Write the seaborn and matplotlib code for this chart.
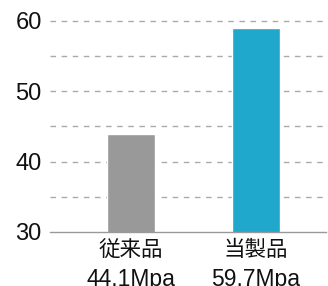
import pandas as pd
import matplotlib
matplotlib.use('Agg')
import matplotlib.pyplot as plt
import matplotlib.transforms as mtransforms
import seaborn as sns

# data
products = ['従来品', '当製品']
strength_labels = ['44.1Mpa', '59.7Mpa']
strength = [43.9, 59.0]
bar_colors = ['#999999', '#1fa7cc']
y_ticks = [30, 40, 50, 60]
grid_levels = [35, 40, 45, 50, 55, 60]

sns.set_style('white')
plt.rcParams['font.family'] = ['Liberation Sans', 'Noto Sans CJK JP', 'DejaVu Sans']

df = pd.DataFrame({'product': products, 'strength': strength})

fig = plt.figure(figsize=(3.28, 2.86), dpi=100)
ax = fig.add_axes([50 / 328, 54 / 286, 276 / 328, 226 / 286])

for lvl in grid_levels:
    ax.axhline(lvl, color='#aaaaaa', linestyle=(0, (4, 4)), linewidth=1, zorder=0)

sns.barplot(data=df, x='product', y='strength', hue='product', palette=bar_colors,
            width=0.384, legend=False, ax=ax, zorder=2, saturation=1)

ax.set_ylim(30, 62.06)
ax.set_xlim(-0.648, 1.56)
ax.set_yticks(y_ticks)
ax.set_yticklabels([str(t) for t in y_ticks], fontsize=17, color='#111111')
ax.set_xticks(range(len(products)))
ax.set_xticklabels(products, fontsize=15.5, color='#111111',
                   family=['Noto Sans CJK JP', 'Liberation Sans'])
ax.tick_params(axis='both', length=0)
ax.tick_params(axis='y', pad=6)
ax.tick_params(axis='x', pad=5)
ax.set_xlabel('')
ax.set_ylabel('')

# second line of each label: the measured strength
trans = mtransforms.blended_transform_factory(ax.transData, ax.transAxes)
for i, s in enumerate(strength_labels):
    ax.text(i, -0.16, s, transform=trans, ha='center', va='top',
            fontsize=16.5, color='#111111', clip_on=False)

for side in ['left', 'right', 'top']:
    ax.spines[side].set_visible(False)
ax.spines['bottom'].set_color('#999999')
ax.spines['bottom'].set_linewidth(1)

# Save the plot to a file
plt.savefig('out.png', dpi=100)
plt.close()
